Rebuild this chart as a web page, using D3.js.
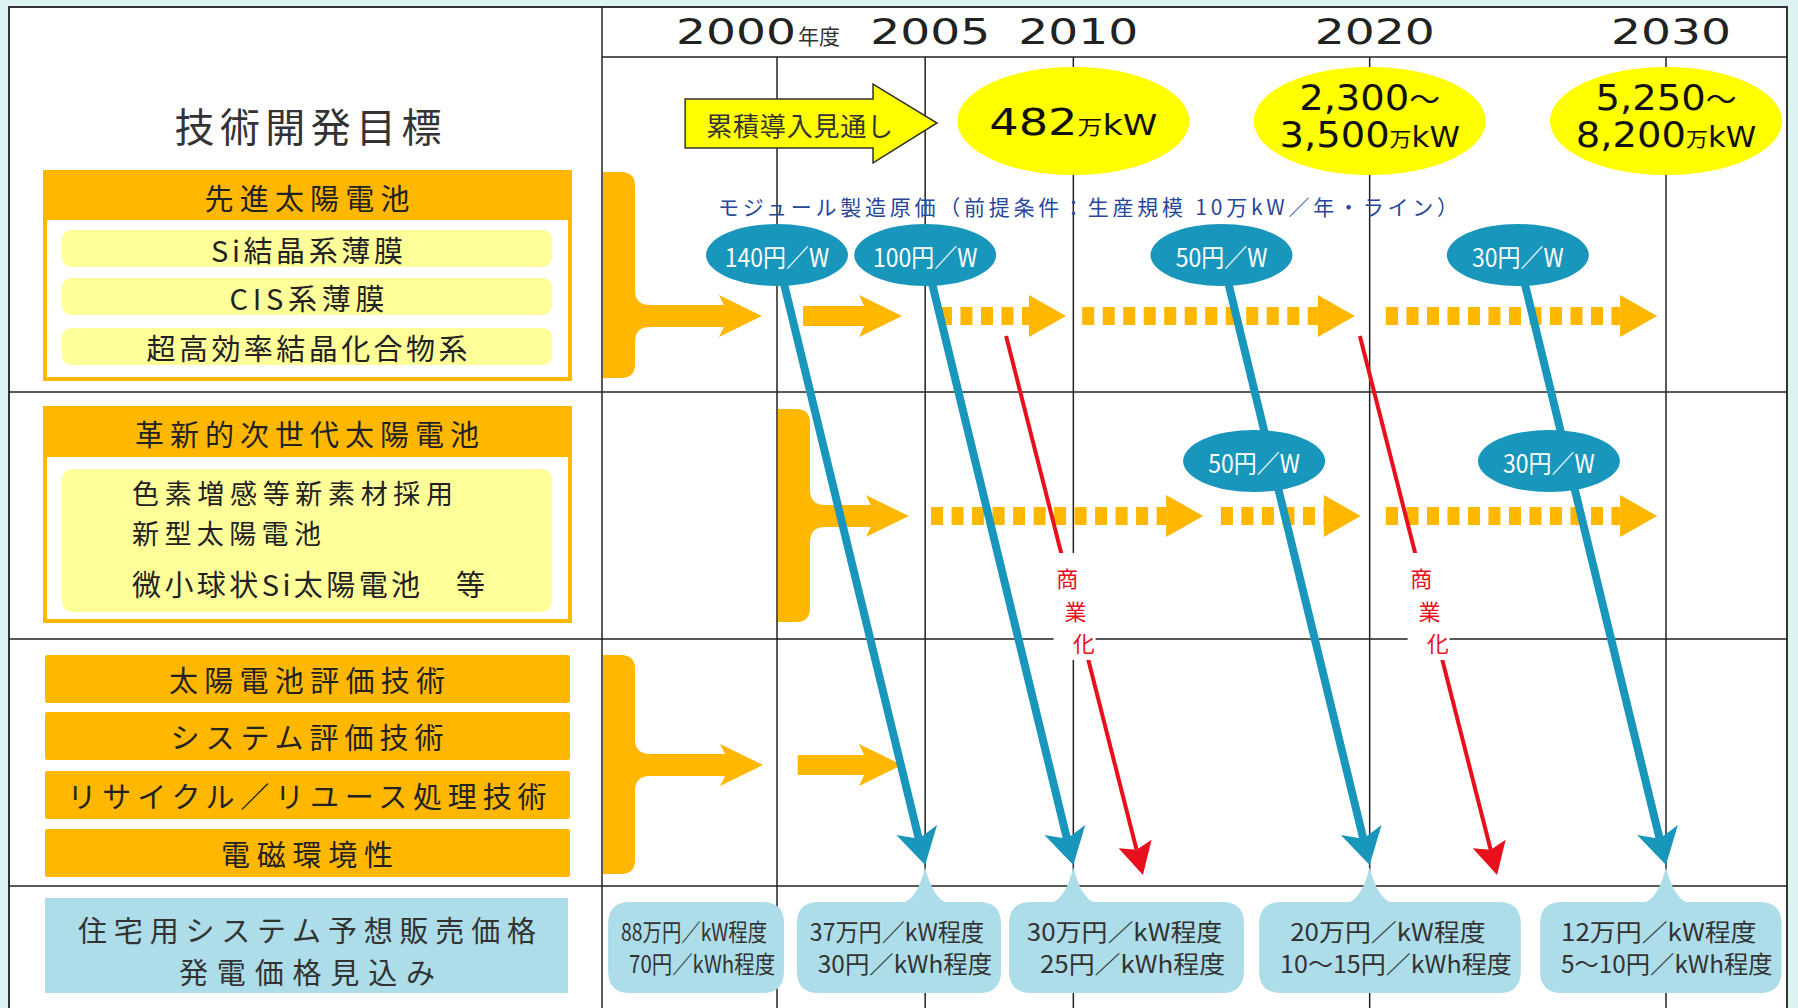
<!DOCTYPE html>
<html lang="ja">
<head>
<meta charset="utf-8">
<script src="https://cdn.jsdelivr.net/npm/d3@7"></script>
<style>
  body { margin: 0; background: #ddf2f2; }
</style>
</head>
<body>
<svg id="chart"></svg>
<script>
// ---- data -------------------------------------------------------------
const years = [2000, 2005, 2010, 2020, 2030];
const yearSuffix = "年度";

const leftTitle = "技術開発目標";
const sec1Title = "先進太陽電池";
const sec1Items = ["Si結晶系薄膜", "CIS系薄膜", "超高効率結晶化合物系"];
const sec2Title = "革新的次世代太陽電池";
const sec2Items = ["色素増感等新素材採用", "新型太陽電池", "微小球状Si太陽電池　等"];
const sec3Items = ["太陽電池評価技術", "システム評価技術", "リサイクル／リユース処理技術", "電磁環境性"];
const priceHeading = ["住宅用システム予想販売価格", "発電価格見込み"];

// cumulative installation outlook
const outlookLabel = "累積導入見通し";
const outlookSpan = [1996.9, 2005.4];
const targetYears = [2010, 2020, 2030];
const targetLines = [["482万kW"], ["2,300～", "3,500万kW"], ["5,250～", "8,200万kW"]];

// module cost
const costCaption = "モジュール製造原価（前提条件：生産規模 10万kW／年・ライン）";
const costYears = [2000, 2005, 2015, 2025];
const costLabels = ["140円／W", "100円／W", "50円／W", "30円／W"];
const costReachYears = [2005, 2010, 2020, 2030];
const cost2Years = [2016.1, 2026.05];
const cost2Labels = ["50円／W", "30円／W"];

// development arrows per row: [start, end, dashed]
const row1Arrows = [[2000.88, 2004.22, false], [2005.5, 2009.75, true], [2010.3, 2019.5, true], [2020.55, 2029.7, true]];
const row2Arrows = [[2005.2, 2014.38, true], [2014.98, 2019.7, true], [2020.55, 2029.7, true]];
const row3Arrows = [[2000.7, 2004.22, false]];
const braceTips = [1999.49, 2004.45, 1999.53];

// commercialisation
const commercialLabel = "商業化";
const commercialFrom = [2007.73, 2019.67];
const commercialTo = [2012.35, 2024.3];

// expected prices
const priceSpans = [[1994.3, 2000.24], [2000.67, 2007.56], [2007.83, 2015.76], [2016.27, 2025.1], [2025.75, 2033.9]];
const pricePointer = [null, 2005, 2010, 2020, 2030];
const priceSystem = ["88万円／kW程度", "37万円／kW程度", "30万円／kW程度", "20万円／kW程度", "12万円／kW程度"];
const priceEnergy = ["70円／kWh程度", "30円／kWh程度", "25円／kWh程度", "10～15円／kWh程度", "5～10円／kWh程度"];

// ---- layout -----------------------------------------------------------
const W = 1798, H = 1008;
const frameL = 9, frameR = 1787, frameT = 7;
const colX = 602, headerY = 57;
const rowLines = [392, 639, 886];
const rowCy = [316, 516, 765];

const ORANGE = "#ffb700", PALE = "#ffff99", TEAL = "#1896bb", SKY = "#acdde9", RED = "#e8101c";
const fontJP = '"Noto Sans CJK JP", "Noto Sans", sans-serif';
const fontNum = '"DejaVu Sans", "Noto Sans CJK JP", sans-serif';

const x = d3.scaleLinear().domain([2000, 2030]).range([777, 1666]);

const svg = d3.select("#chart").attr("width", W).attr("height", H);

svg.append("rect").attr("width", W).attr("height", H).attr("fill", "#ddf2f2");
svg.append("rect")
  .attr("x", frameL).attr("y", frameT)
  .attr("width", frameR - frameL).attr("height", H)
  .attr("fill", "#fff").attr("stroke", "#333").attr("stroke-width", 2);

// grid
const grid = svg.append("g").attr("stroke", "#222").attr("stroke-width", 1.5);
grid.selectAll(".v").data(years).join("line")
  .attr("x1", d => x(d)).attr("x2", d => x(d))
  .attr("y1", headerY).attr("y2", H);
grid.append("line").attr("x1", colX).attr("x2", colX).attr("y1", frameT).attr("y2", H);
grid.append("line").attr("x1", colX).attr("x2", frameR).attr("y1", headerY).attr("y2", headerY);
grid.selectAll(".h").data(rowLines).join("line")
  .attr("x1", frameL).attr("x2", frameR)
  .attr("y1", d => d).attr("y2", d => d);

// header years
svg.append("g").selectAll("text").data(years).join("text")
  .attr("x", (d, i) => i === 0 ? x(d) - 41 : x(d) + 5)
  .attr("y", 44)
  .attr("text-anchor", "middle")
  .attr("font-family", fontNum).attr("font-size", 36).attr("fill", "#222")
  .attr("textLength", 120).attr("lengthAdjust", "spacingAndGlyphs")
  .text(d => d);
svg.append("text")
  .attr("x", x(years[0]) + 21).attr("y", 44)
  .attr("font-family", fontJP).attr("font-size", 21).attr("fill", "#333")
  .text(yearSuffix);

// ---- left column ------------------------------------------------------
const left = svg.append("g").attr("font-family", fontJP).attr("fill", "#222");
const midL = 307, fsL = 29;

function label(g, txt, cx, cy, size, len, anchor) {
  return g.append("text")
    .attr("x", cx).attr("y", cy)
    .attr("text-anchor", anchor || "middle")
    .attr("dominant-baseline", "central")
    .attr("font-size", size)
    .attr("textLength", len).attr("lengthAdjust", "spacing")
    .text(txt);
}

label(left, leftTitle, 308, 125, 40, 267).attr("fill", "#333");

// section 1
left.append("rect").attr("x", 45).attr("y", 172).attr("width", 525).attr("height", 207)
  .attr("fill", "#fff").attr("stroke", ORANGE).attr("stroke-width", 4);
left.append("rect").attr("x", 45).attr("y", 172).attr("width", 525).attr("height", 48).attr("fill", ORANGE);
label(left, sec1Title, midL, 197, fsL, 205);
const s1y = [230, 278, 328], s1len = [192, 155, 321];
sec1Items.forEach((t, i) => {
  left.append("rect").attr("x", 62).attr("y", s1y[i]).attr("width", 490).attr("height", 37)
    .attr("rx", 9).attr("fill", PALE);
  label(left, t, midL, s1y[i] + 19, fsL, s1len[i]);
});

// section 2
left.append("rect").attr("x", 45).attr("y", 408).attr("width", 525).attr("height", 213)
  .attr("fill", "#fff").attr("stroke", ORANGE).attr("stroke-width", 4);
left.append("rect").attr("x", 45).attr("y", 408).attr("width", 525).attr("height", 49).attr("fill", ORANGE);
label(left, sec2Title, midL, 433, fsL, 344);
left.append("rect").attr("x", 62).attr("y", 469).attr("width", 490).attr("height", 143)
  .attr("rx", 10).attr("fill", PALE);
const s2y = [492, 532, 583], s2len = [321, 189, 353];
sec2Items.forEach((t, i) => label(left, t, 132, s2y[i], i < 2 ? 27 : fsL, s2len[i], "start"));

// section 3
const s3y = [655, 712, 771, 829], s3len = [276, 273, 479, 172];
sec3Items.forEach((t, i) => {
  left.append("rect").attr("x", 45).attr("y", s3y[i]).attr("width", 525).attr("height", 48)
    .attr("rx", 2).attr("fill", ORANGE);
  label(left, t, midL, s3y[i] + 24, fsL, s3len[i]);
});

// price heading
left.append("rect").attr("x", 45).attr("y", 898).attr("width", 523).attr("height", 95).attr("fill", SKY);
label(left, priceHeading[0], midL, 929, fsL, 458).attr("fill", "#333");
label(left, priceHeading[1], midL, 971, fsL, 256).attr("fill", "#333");

// ---- orange development arrows ----------------------------------------
const orange = svg.append("g").attr("fill", ORANGE);

function bracePath(bx, top, bottom, cy, tipX) {
  const bw = 32, r = 14, f = 15, sh = 11, hh = 21, hl = 38;
  const rx = bx + bw, hx = tipX - hl;
  return `M${bx},${top} L${rx - r},${top} Q${rx},${top} ${rx},${top + r}
    L${rx},${cy - sh - f} Q${rx},${cy - sh} ${rx + f},${cy - sh}
    L${hx},${cy - sh} L${hx - 5},${cy - hh} L${tipX},${cy} L${hx - 5},${cy + hh} L${hx},${cy + sh}
    L${rx + f},${cy + sh} Q${rx},${cy + sh} ${rx},${cy + sh + f}
    L${rx},${bottom - r} Q${rx},${bottom} ${rx - r},${bottom} L${bx},${bottom} Z`;
}
function arrowPath(x0, x1, cy) {
  const sh = 10, hh = 21, hx = x1 - 38;
  return `M${x0},${cy - sh} L${hx},${cy - sh} L${hx - 5},${cy - hh} L${x1},${cy}
    L${hx - 5},${cy + hh} L${hx},${cy + sh} L${x0},${cy + sh} Z`;
}
function drawArrow(a, cy) {
  const x0 = x(a[0]), x1 = x(a[1]);
  if (!a[2]) {
    orange.append("path").attr("d", arrowPath(x0, x1, cy));
  } else {
    const hx = x1 - 37;
    orange.append("line")
      .attr("x1", x0).attr("x2", hx).attr("y1", cy).attr("y2", cy)
      .attr("stroke", ORANGE).attr("stroke-width", 18).attr("stroke-dasharray", "12 8.5");
    orange.append("path").attr("d", `M${hx},${cy - 21} L${x1},${cy} L${hx},${cy + 21} Z`);
  }
}

const braceBox = [[colX + 1, 172, 378], [x(2000) + 1, 409, 622], [colX + 1, 655, 874]];
braceBox.forEach((b, i) => {
  orange.append("path").attr("d", bracePath(b[0], b[1], b[2], rowCy[i], x(braceTips[i])));
});
row1Arrows.forEach(a => drawArrow(a, rowCy[0]));
row2Arrows.forEach(a => drawArrow(a, rowCy[1]));
row3Arrows.forEach(a => drawArrow(a, rowCy[2]));

// ---- cumulative outlook -----------------------------------------------
const outY = 123;
const ox0 = x(outlookSpan[0]), ox1 = x(outlookSpan[1]), ohx = ox1 - 64;
svg.append("path")
  .attr("d", `M${ox0},${outY - 24} L${ohx},${outY - 24} L${ohx},${outY - 39} L${ox1},${outY}
    L${ohx},${outY + 40} L${ohx},${outY + 25} L${ox0},${outY + 25} Z`)
  .attr("fill", "#ffff00").attr("stroke", "#333").attr("stroke-width", 1.5);
svg.append("text")
  .attr("x", ox0 + 21).attr("y", outY + 1)
  .attr("dominant-baseline", "central")
  .attr("font-family", fontJP).attr("font-size", 26).attr("fill", "#333")
  .attr("textLength", 187).attr("lengthAdjust", "spacing")
  .text(outlookLabel);

const targets = svg.append("g");
targetYears.forEach((yr, i) => {
  const cx = x(yr), cy = 121;
  targets.append("ellipse").attr("cx", cx).attr("cy", cy).attr("rx", 116).attr("ry", 54).attr("fill", "#ffff00");
  const lines = targetLines[i];
  const base = lines.length === 1 ? [cy + 14] : [cy - 11, cy + 26];
  const stretch = lines.length === 1 ? 1.25 : 1.1;
  const big = lines.length === 1 ? 37 : 35;
  lines.forEach((ln, j) => {
    const t = targets.append("text")
      .attr("x", cx).attr("y", base[j]).attr("text-anchor", "middle")
      .attr("font-family", fontNum).attr("fill", "#111");
    ln.split(/(万|kW|～)/).filter(s => s).forEach(part => {
      t.append("tspan")
        .attr("font-size", part === "万" ? 20 : (part === "kW" || part === "～") ? 28 : big)
        .attr("font-family", part === "万" || part === "～" ? fontJP : fontNum)
        .text(part);
    });
    const nat = t.node().getComputedTextLength();
    t.attr("textLength", nat * stretch).attr("lengthAdjust", "spacingAndGlyphs");
  });
});

// caption
svg.append("text")
  .attr("x", 1088).attr("y", 206)
  .attr("text-anchor", "middle").attr("dominant-baseline", "central")
  .attr("font-family", fontJP).attr("font-size", 21).attr("fill", "#27479a")
  .attr("textLength", 740).attr("lengthAdjust", "spacing")
  .text(costCaption);

// ---- arrows helper ------------------------------------------------------
function headPath(x0, y0, x1, y1, len, half, notch) {
  const a = Math.atan2(y1 - y0, x1 - x0);
  const ux = Math.cos(a), uy = Math.sin(a), px = -uy, py = ux;
  const bx = x1 - ux * len, by = y1 - uy * len;
  const nx = x1 - ux * (len - notch), ny = y1 - uy * (len - notch);
  return {
    d: `M${x1},${y1} L${bx + px * half},${by + py * half} L${nx},${ny} L${bx - px * half},${by - py * half} Z`,
    nx: nx, ny: ny
  };
}

// ---- cost lines -------------------------------------------------------
const costTopY = 255, cost2Y = 461, tipY = 865;
const teal = svg.append("g");
costYears.forEach((yr, i) => {
  const x0 = x(yr), x1 = x(costReachYears[i]);
  const h = headPath(x0, costTopY, x1, tipY, 36, 21, 9);
  teal.append("line")
    .attr("x1", x0).attr("y1", costTopY).attr("x2", h.nx).attr("y2", h.ny)
    .attr("stroke", TEAL).attr("stroke-width", 8);
  teal.append("path").attr("d", h.d).attr("fill", TEAL);
});

// ---- commercialisation ------------------------------------------------
const red = svg.append("g");
const redTop = 336, redTip = 875;
commercialFrom.forEach((yr, i) => {
  const x0 = x(yr), x1 = x(commercialTo[i]);
  const h = headPath(x0, redTop, x1, redTip, 32, 17, 6);
  red.append("line")
    .attr("x1", x0).attr("y1", redTop).attr("x2", h.nx).attr("y2", h.ny)
    .attr("stroke", RED).attr("stroke-width", 4);
  red.append("path").attr("d", h.d).attr("fill", RED);
  const at = y => x0 + (x1 - x0) * (y - redTop) / (redTip - redTop);
  red.append("rect")
    .attr("x", at(606) - 21).attr("y", 553).attr("width", 42).attr("height", 107)
    .attr("fill", "#fff");
  commercialLabel.split("").forEach((c, k) => {
    const yy = 577 + k * 32.5;
    red.append("text")
      .attr("x", at(yy)).attr("y", yy)
      .attr("text-anchor", "middle").attr("dominant-baseline", "central")
      .attr("font-family", fontJP).attr("font-size", 22).attr("fill", RED)
      .text(c);
  });
});

// ---- cost ellipses ----------------------------------------------------
function costBubble(cx, cy, txt) {
  teal.append("ellipse").attr("cx", cx).attr("cy", cy).attr("rx", 71).attr("ry", 31).attr("fill", TEAL);
  const t = teal.append("text")
    .attr("x", cx).attr("y", cy + 1)
    .attr("text-anchor", "middle").attr("dominant-baseline", "central")
    .attr("font-family", fontJP).attr("font-size", 25).attr("fill", "#fff")
    .text(txt);
  const nat = t.node().getComputedTextLength();
  t.attr("textLength", nat * 0.92).attr("lengthAdjust", "spacingAndGlyphs");
}
costYears.forEach((yr, i) => costBubble(x(yr), costTopY, costLabels[i]));
cost2Years.forEach((yr, i) => costBubble(x(yr), cost2Y, cost2Labels[i]));

// ---- price callouts ---------------------------------------------------
const boxTop = 902, boxBot = 993, r = 22;
const callouts = svg.append("g");
priceSpans.forEach((sp, i) => {
  const x0 = x(sp[0]), x1 = x(sp[1]), p = pricePointer[i];
  let d = `M${x0 + r},${boxTop}`;
  if (p !== null) {
    const px = x(p);
    d += ` L${px - 20},${boxTop} Q${px - 7},${boxTop - 6} ${px},${tipY + 2} Q${px + 7},${boxTop - 6} ${px + 20},${boxTop}`;
  }
  d += ` L${x1 - r},${boxTop} Q${x1},${boxTop} ${x1},${boxTop + r} L${x1},${boxBot - r} Q${x1},${boxBot} ${x1 - r},${boxBot}
    L${x0 + r},${boxBot} Q${x0},${boxBot} ${x0},${boxBot - r} L${x0},${boxTop + r} Q${x0},${boxTop} ${x0 + r},${boxTop} Z`;
  callouts.append("path").attr("d", d).attr("fill", SKY);
  [priceSystem[i], priceEnergy[i]].forEach((txt, j) => {
    const t = callouts.append("text")
      .attr("x", (x0 + x1) / 2 + (j ? 6 : -2)).attr("y", j ? 962 : 930)
      .attr("text-anchor", "middle").attr("dominant-baseline", "central")
      .attr("font-family", fontJP).attr("font-size", 24).attr("fill", "#333")
      .text(txt);
    const nat = t.node().getComputedTextLength();
    t.attr("textLength", Math.min(nat * 1.08, x1 - x0 - 30)).attr("lengthAdjust", "spacingAndGlyphs");
  });
});
</script>
</body>
</html>
